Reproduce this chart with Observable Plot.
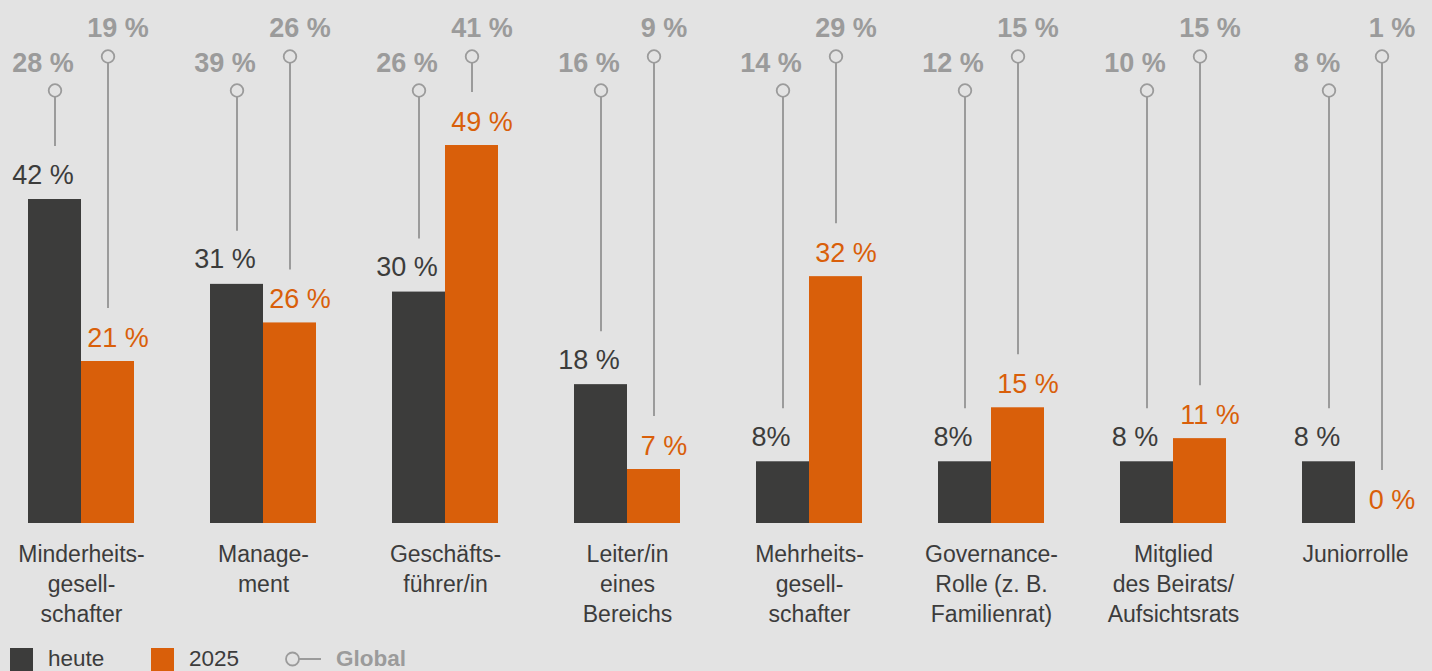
<!DOCTYPE html>
<html><head><meta charset="utf-8">
<script src="https://cdn.jsdelivr.net/npm/d3@7"></script>
<script src="https://cdn.jsdelivr.net/npm/@observablehq/plot@0.6"></script>
<style>
body{margin:0;background:#e3e3e3;font-family:"Liberation Sans",Arial,Helvetica,sans-serif;}
#wrap{position:relative;width:1432px;height:671px;overflow:hidden;background:#e3e3e3}
#legend{position:absolute;left:0;top:0;width:1432px;height:671px;pointer-events:none}
.sw{position:absolute;top:648px;width:23px;height:23px}
.lt{position:absolute;top:646px;font-size:22.5px;line-height:26px;color:#3c3c3c}
</style></head>
<body><div id="wrap"><div id="chart"></div>
<div id="legend">
  <div class="sw" style="left:10px;background:#3c3c3b"></div>
  <div class="lt" style="left:48px">heute</div>
  <div class="sw" style="left:151px;background:#d95f0a"></div>
  <div class="lt" style="left:189px">2025</div>
  <svg style="position:absolute;left:284px;top:651px" width="40" height="16"><circle cx="8.5" cy="8" r="6.5" fill="none" stroke="#9b9b9b" stroke-width="1.8"/><line x1="15" x2="37" y1="8" y2="8" stroke="#9b9b9b" stroke-width="2"/></svg>
  <div class="lt" style="left:336px;font-weight:bold;color:#9b9b9b">Global</div>
</div></div>
<script>
const groups = ["Minderheits-\ngesell-\nschafter","Manage-\nment","Geschäfts-\nführer/in","Leiter/in\neines\nBereichs","Mehrheits-\ngesell-\nschafter","Governance-\nRolle (z. B.\nFamilienrat)","Mitglied\ndes Beirats/\nAufsichtsrats","Juniorrolle"];
const heute = [42,31,30,18,8,8,8,8];
const y2025 = [21,26,49,7,32,15,11,0];
const globalHeute = [28,39,26,16,14,12,10,8];
const global2025 = [19,26,41,9,29,15,15,1];
const heuteLabels = ["42 %","31 %","30 %","18 %","8%","8%","8 %","8 %"];
const labels2025 = ["21 %","26 %","49 %","7 %","32 %","15 %","11 %","0 %"];

const rows = groups.map((g,i)=>({group:g, heute:heute[i], y2025:y2025[i], gH:globalHeute[i], g25:global2025[i], lH:heuteLabels[i], l25:labels2025[i]}));

const dark = "#3c3c3b", orange = "#d95f0a", grey = "#9b9b9b", bg = "#e3e3e3";
const half = 26.5;
const yMax = 523/7.714;

const chart = Plot.plot({
  width: 1432, height: 640,
  marginTop: 0, marginBottom: 117, marginLeft: 27, marginRight: 23,
  style: {background: "transparent", fontFamily: '"Liberation Sans", Arial, sans-serif'},
  x: {domain: groups, paddingInner: 0.418, paddingOuter: 0, axis: null},
  y: {domain: [0, yMax], axis: null},
  marks: [
    Plot.barY(rows, {x: "group", y: "heute", fill: dark, insetRight: 2*half}),
    Plot.barY(rows, {x: "group", y: "y2025", fill: orange, insetLeft: 2*half}),
    Plot.ruleX(rows, {x: "group", y1: () => yMax, y2: "heute", dx: -half, insetTop: 96, insetBottom: 53, stroke: grey, strokeWidth: 2}),
    Plot.ruleX(rows, {x: "group", y1: () => yMax, y2: "y2025", dx: half, insetTop: 62, insetBottom: 53, stroke: grey, strokeWidth: 2}),
    Plot.dot(rows, {x: "group", frameAnchor: "top", dy: 90, dx: -half, r: 6.3, stroke: grey, strokeWidth: 1.8, fill: bg}),
    Plot.dot(rows, {x: "group", frameAnchor: "top", dy: 56, dx: half, r: 6.3, stroke: grey, strokeWidth: 1.8, fill: bg}),
    Plot.text(rows, {x: "group", frameAnchor: "top", dy: 71, dx: -half-12, text: d => d.gH + " %", lineAnchor: "bottom", fontSize: 27, fontWeight: "bold", fill: grey}),
    Plot.text(rows, {x: "group", frameAnchor: "top", dy: 36, dx: half+10, text: d => d.g25 + " %", lineAnchor: "bottom", fontSize: 27, fontWeight: "bold", fill: grey}),
    Plot.text(rows, {x: "group", y: "heute", dy: -16, dx: -half-12, text: "lH", lineAnchor: "bottom", fontSize: 27, fill: dark}),
    Plot.text(rows, {x: "group", y: "y2025", dy: -15, dx: half+10, text: "l25", lineAnchor: "bottom", fontSize: 27, fill: orange}),
    Plot.text(rows, {x: "group", frameAnchor: "bottom", dy: 17, text: "group", lineAnchor: "top", lineHeight: 1.3, fontSize: 23, fill: "#3c3c3c"})
  ]
});
document.getElementById("chart").appendChild(chart);
</script>
</body></html>
